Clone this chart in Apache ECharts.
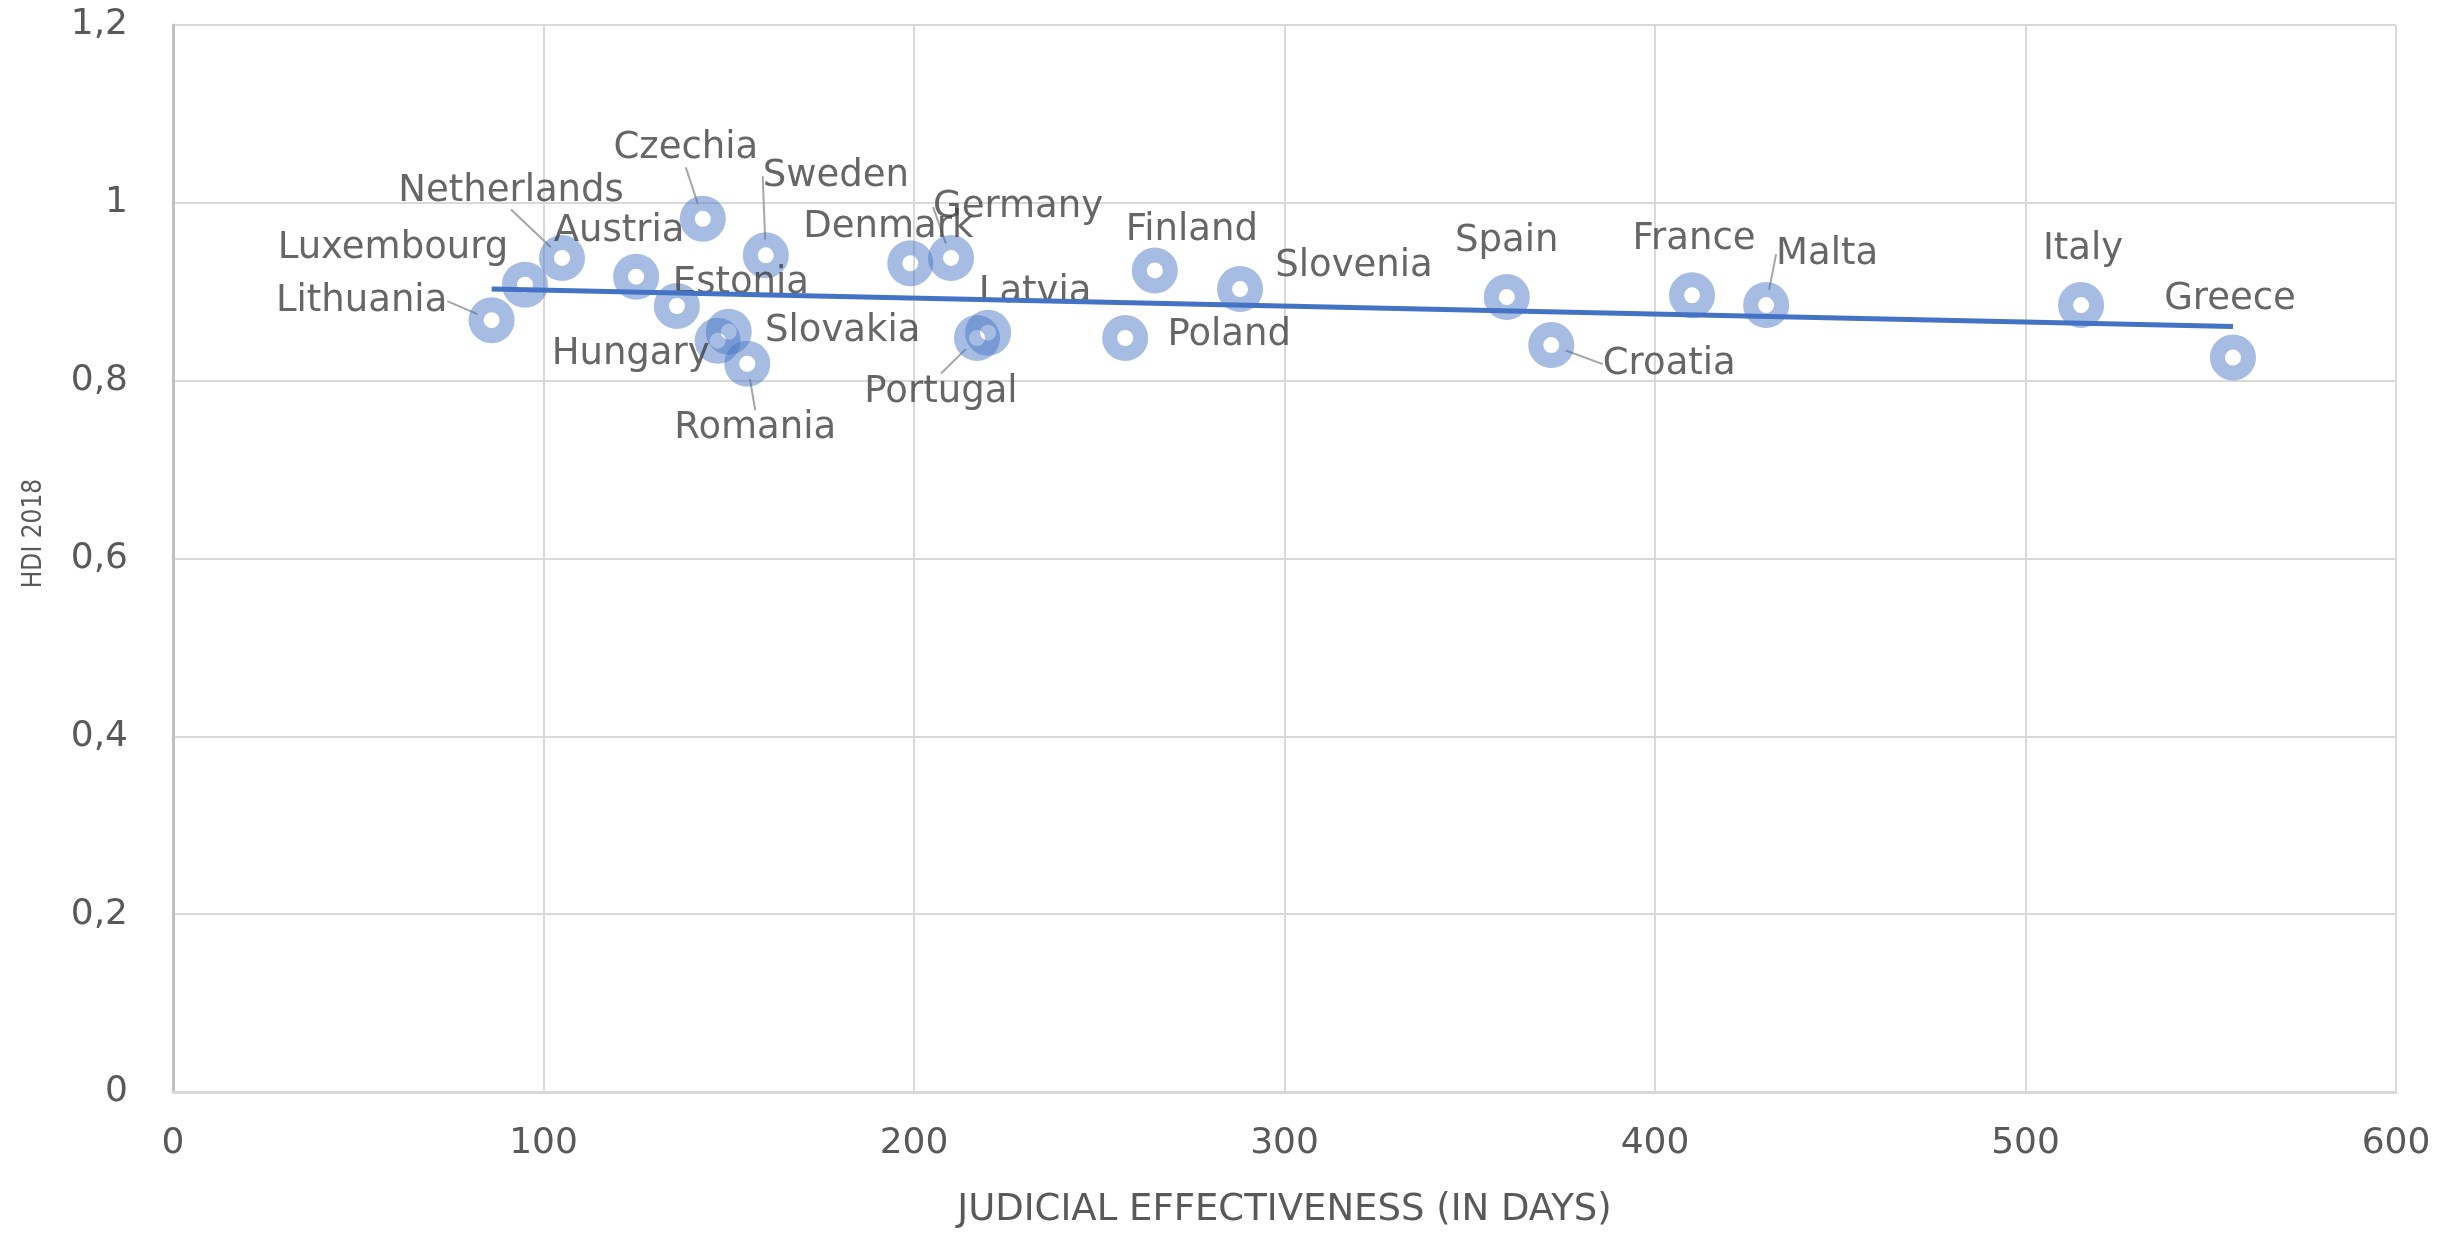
<!DOCTYPE html>
<html>
<head>
<meta charset="utf-8">
<title>HDI 2018 vs judicial effectiveness</title>
<script src="https://cdn.jsdelivr.net/npm/echarts@6/dist/echarts.min.js"></script>
<style>
    html, body { margin: 0; padding: 0; background: #ffffff; }
    #echarts-main { width: 2440px; height: 1234px; }
</style>
</head>
<body>
<div id="echarts-main"></div>
<script>
    // data
    const countries = ['Lithuania', 'Luxembourg', 'Netherlands', 'Austria', 'Estonia', 'Czechia',
        'Hungary', 'Slovakia', 'Romania', 'Sweden', 'Denmark', 'Germany', 'Portugal', 'Latvia',
        'Poland', 'Finland', 'Slovenia', 'Spain', 'Croatia', 'France', 'Malta', 'Italy', 'Greece']
    const days = [86, 95, 105, 125, 136, 143, 147, 150, 155, 160, 199, 210, 217, 220,
        257, 265, 288, 360, 372, 410, 430, 515, 556]
    const hdi = [0.868, 0.908, 0.938, 0.917, 0.884, 0.982, 0.845, 0.855, 0.819, 0.941, 0.932, 0.938, 0.848, 0.854,
        0.848, 0.924, 0.903, 0.894, 0.840, 0.896, 0.885, 0.885, 0.826]
    // linear trendline end points
    const trendDays = [86, 556]
    const trendHdi = [0.903, 0.861]
    const xTicks = [0, 600, 100]   // min, max, step
    const yTicks = [0, 1.2, 0.2]

    // label placement (pixels from the marker), and which labels have a leader line
    const labelShift = [[-130, -19], [-132, -36], [-51, -67], [-17, -45], [64, -23], [-17, -70],
        [-87, 14], [114, 0], [8, 65], [70, -79], [-22, -36], [67, -51], [-36, 54], [47, -40],
        [104, -3], [37, -40], [114, -23], [0, -56], [118, 19], [2, -56], [61, -51], [2, -56], [-3, -58]]
    const withLeader = ['Lithuania', 'Netherlands', 'Czechia', 'Sweden', 'Germany', 'Portugal',
        'Romania', 'Croatia', 'Malta']

    const font = 'DejaVu Sans'

    let scatter_data = []
    for (let i = 0; i < countries.length; i++) {
        scatter_data.push({
            name: countries[i],
            value: [days[i], hdi[i]],
            labelLine: { show: withLeader.indexOf(countries[i]) >= 0 }
        })
    }
    let trend_data = []
    for (let i = 0; i < trendDays.length; i++) {
        trend_data.push([trendDays[i], trendHdi[i]])
    }

    let myChart = echarts.init(document.getElementById('echarts-main'))

    const option = {
        animation: false,
        backgroundColor: '#ffffff',
        grid: { left: 173, right: 44, top: 25, bottom: 142, outerBoundsMode: 'none' },
        xAxis: {
            type: 'value',
            min: xTicks[0], max: xTicks[1], interval: xTicks[2],
            name: 'JUDICIAL EFFECTIVENESS (IN DAYS)',
            nameLocation: 'middle',
            nameGap: 100,
            nameTextStyle: { fontFamily: font, fontSize: 37, color: '#595959' },
            axisLine: { show: true, lineStyle: { color: '#d9d9d9', width: 3 } },
            axisTick: { show: false },
            axisLabel: { fontFamily: font, fontSize: 36, color: '#595959', margin: 34 },
            splitLine: { show: true, lineStyle: { color: '#d9d9d9', width: 2 } }
        },
        yAxis: {
            type: 'value',
            min: yTicks[0], max: yTicks[1], interval: yTicks[2],
            name: 'HDI 2018',
            nameLocation: 'middle',
            nameGap: 126,
            nameTextStyle: { fontFamily: 'DejaVu Sans Condensed', fontSize: 26, color: '#595959', padding: [0, 0, 0, 50] },
            axisLine: { show: true, lineStyle: { color: '#bfbfbf', width: 3 } },
            axisTick: { show: false },
            axisLabel: {
                fontFamily: font, fontSize: 36, color: '#595959', margin: 45,
                formatter: v => String(Math.round(v * 10) / 10).replace('.', ',')
            },
            splitLine: { show: true, lineStyle: { color: '#d9d9d9', width: 2 } }
        },
        series: [
            {
                name: 'trend',
                type: 'line',
                data: trend_data,
                symbol: 'none',
                silent: true,
                lineStyle: { color: '#4472c4', width: 5 }
            },
            {
                name: 'countries',
                type: 'scatter',
                data: scatter_data,
                symbol: 'circle',
                symbolSize: 31,
                itemStyle: {
                    color: 'rgba(255,255,255,0)',
                    borderColor: 'rgba(68,114,196,0.6)',
                    borderWidth: 15
                },
                label: {
                    show: true,
                    position: 'inside',
                    formatter: p => p.name,
                    fontFamily: font,
                    fontSize: 37,
                    color: '#404040'
                },
                labelLine: {
                    lineStyle: { color: '#a6a6a6', width: 2 }
                },
                labelLayout: params => {
                    const s = labelShift[params.dataIndex]
                    return { dx: s[0], dy: s[1] }
                }
            }
        ]
    }

    myChart.setOption(option)
</script>
</body>
</html>
